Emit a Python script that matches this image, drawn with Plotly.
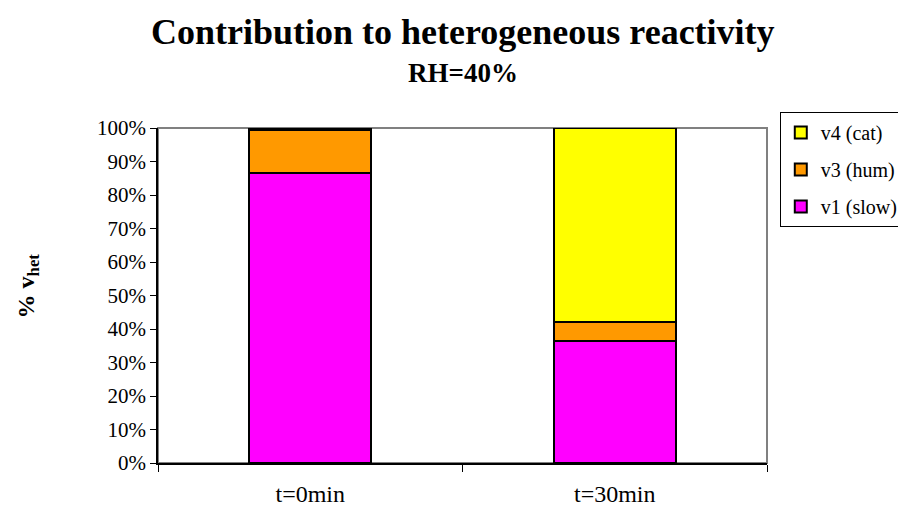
import plotly.graph_objects as go

categories = ["t=0min", "t=30min"]
v1_slow = [86.7, 36.5]
v3_hum = [12.7, 5.5]
v4_cat = [0.6, 58.0]
y_ticks = [0, 10, 20, 30, 40, 50, 60, 70, 80, 90, 100]

serif = "Liberation Serif"

fig = go.Figure()
series = [
    ("v1 (slow)", v1_slow, "#FF00FF", 3),
    ("v3 (hum)", v3_hum, "#FF9900", 2),
    ("v4 (cat)", v4_cat, "#FFFF00", 1),
]
for name, vals, color, rank in series:
    fig.add_trace(go.Bar(
        x=categories, y=vals, name=name, legendgroup=name, legendrank=rank,
        marker=dict(color=color, line=dict(color="black", width=2)),
    ))

# page body has an 8px margin, so the figure is laid out 8px up/left
fig.update_layout(
    barmode="stack",
    bargap=0.6,
    width=906, height=510,
    margin=dict(l=150, r=147, t=120, b=55, autoexpand=False),
    paper_bgcolor="white", plot_bgcolor="white",
    font=dict(family=serif, color="black"),
    showlegend=True,
    legend=dict(
        traceorder="grouped", tracegroupgap=8,
        x=1.021, y=1.048, xanchor="left", yanchor="top",
        bordercolor="black", borderwidth=1,
        font=dict(family=serif, size=20),
        itemwidth=30,
    ),
    annotations=[
        dict(text="<b>Contribution to heterogeneous reactivity</b>",
             xref="paper", yref="paper", x=0.5, y=1.0, yshift=96, yanchor="middle",
             showarrow=False, font=dict(family=serif, size=36)),
        dict(text="<b>RH=40%</b>",
             xref="paper", yref="paper", x=0.5, y=1.0, yshift=55, yanchor="middle",
             showarrow=False, font=dict(family=serif, size=27)),
        dict(text="<b>% v<sub>het</sub></b>",
             xref="paper", yref="paper", x=-0.2135, y=0.53,
             xanchor="center", yanchor="middle",
             showarrow=False, textangle=-90, font=dict(family=serif, size=24)),
    ],
    shapes=[dict(type="rect", xref="paper", yref="paper", x0=0, y0=0, x1=1, y1=1,
                 line=dict(color="#808080", width=2), layer="below")],
)

fig.update_xaxes(
    tickson="boundaries", ticks="outside", ticklen=7, tickcolor="black",
    showline=True, linecolor="black", linewidth=1.5,
    ticklabelstandoff=8,
    tickfont=dict(family=serif, size=24),
)
fig.update_yaxes(
    range=[0, 100], tickvals=y_ticks, ticktext=[f"{t}%" for t in y_ticks],
    ticks="outside", ticklen=6, tickcolor="black",
    showline=True, linecolor="black", linewidth=1.5, showgrid=False,
    tickfont=dict(family=serif, size=21), zeroline=False,
)

fig.write_html("out.html")
